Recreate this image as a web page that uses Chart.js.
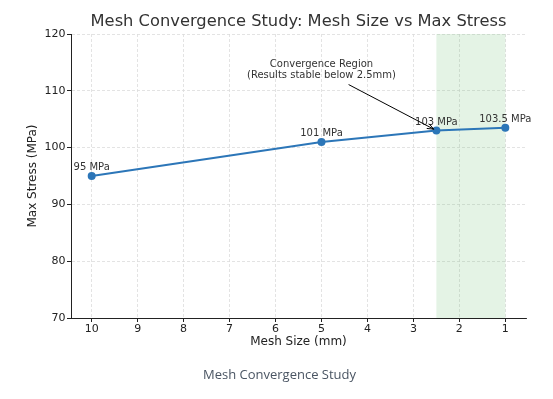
<!DOCTYPE html>
<html>
<head>
<meta charset="utf-8">
<script src="https://cdn.jsdelivr.net/npm/chart.js@4.4.0/dist/chart.umd.min.js"></script>
<style>
  html, body { margin: 0; padding: 0; background: #fff; }
  canvas { display: block; }
</style>
</head>
<body>
<canvas id="graficaMalla" width="553" height="399"></canvas>
<script>
// Datos
const tamanosMalla = [10, 5, 2.5, 1];
const esfuerzoMax = [95, 101, 103, 103.5];
const etiquetasPuntos = ["95 MPa", "101 MPa", "103 MPa", "103.5 MPa"];
const ticksX = [10, 9, 8, 7, 6, 5, 4, 3, 2, 1];
const ticksY = [70, 80, 90, 100, 110, 120];
const regionConvergencia = [2.5, 1];
const textoAnotacion = ["Convergence Region", "(Results stable below 2.5mm)"];
const centroAnotacion = [5, 113.7];
const inicioFlecha = [4.41, 111.1];
const destinoFlecha = [2.5, 103];
const leyendaFigura = "Mesh Convergence Study";

const FUENTE = "'DejaVu Sans', sans-serif";

// Zona verde de convergencia
const pluginRegion = {
  id: "regionConvergencia",
  beforeDatasetsDraw(chart) {
    const { ctx, chartArea, scales } = chart;
    const xa = scales.x.getPixelForValue(regionConvergencia[0]);
    const xb = scales.x.getPixelForValue(regionConvergencia[1]);
    ctx.save();
    ctx.fillStyle = "rgba(76,175,80,0.15)";
    ctx.fillRect(Math.min(xa, xb), chartArea.top, Math.abs(xb - xa), chartArea.bottom - chartArea.top);
    ctx.restore();
  }
};

// Etiquetas sobre los puntos y anotacion con flecha
const pluginEtiquetas = {
  id: "etiquetasPuntos",
  afterDatasetsDraw(chart) {
    const { ctx, scales } = chart;
    const meta = chart.getDatasetMeta(0);
    ctx.save();
    ctx.font = "10px " + FUENTE;
    ctx.fillStyle = "#333";
    ctx.textAlign = "center";
    ctx.textBaseline = "middle";
    meta.data.forEach((pt, i) => {
      ctx.fillText(etiquetasPuntos[i], pt.x, pt.y - 8.6);
    });

    // texto de la anotacion
    const cx = scales.x.getPixelForValue(centroAnotacion[0]);
    const cy = scales.y.getPixelForValue(centroAnotacion[1]);
    ctx.fillText(textoAnotacion[0], cx, cy - 5.7);
    ctx.fillText(textoAnotacion[1], cx, cy + 5.7);

    // flecha
    const x1 = scales.x.getPixelForValue(inicioFlecha[0]);
    const y1 = scales.y.getPixelForValue(inicioFlecha[1]);
    let x2 = scales.x.getPixelForValue(destinoFlecha[0]);
    let y2 = scales.y.getPixelForValue(destinoFlecha[1]);
    const ang = Math.atan2(y2 - y1, x2 - x1);
    x2 -= Math.cos(ang) * 3;
    y2 -= Math.sin(ang) * 3;
    ctx.strokeStyle = "#000";
    ctx.lineWidth = 1;
    ctx.beginPath();
    ctx.moveTo(x1, y1);
    ctx.lineTo(x2, y2);
    const largo = 7, abre = 0.38;
    ctx.moveTo(x2 - largo * Math.cos(ang - abre), y2 - largo * Math.sin(ang - abre));
    ctx.lineTo(x2, y2);
    ctx.lineTo(x2 - largo * Math.cos(ang + abre), y2 - largo * Math.sin(ang + abre));
    ctx.stroke();
    ctx.restore();
  }
};

// Pie de figura debajo del grafico
const pluginPie = {
  id: "pieFigura",
  afterDraw(chart) {
    const ctx = chart.ctx;
    ctx.save();
    ctx.font = "13px 'Open Sans', sans-serif";
    ctx.fillStyle = "#4a5563";
    ctx.textAlign = "center";
    ctx.textBaseline = "middle";
    ctx.fillText(leyendaFigura, chart.width / 2 + 3, chart.height - 24);
    ctx.restore();
  }
};

const ejeComun = {
  grid: {
    color: "#dcdcdc",
    lineWidth: 0.8,
    drawTicks: true,
    tickLength: 4,
    tickColor: "#222",
    tickWidth: 1,
    tickBorderDash: []
  },
  border: { display: true, color: "#222", width: 1, dash: [3, 2] }
};

new Chart(document.getElementById("graficaMalla"), {
  type: "line",
  data: {
    datasets: [{
      label: "Max Stress",
      data: tamanosMalla.map((x, i) => ({ x: x, y: esfuerzoMax[i] })),
      borderColor: "#2c76b8",
      backgroundColor: "#2c76b8",
      pointBackgroundColor: "#2c76b8",
      pointBorderColor: "#2c76b8",
      pointRadius: 3,
      pointHoverRadius: 3,
      borderWidth: 2,
      tension: 0,
      fill: false
    }]
  },
  options: {
    responsive: false,
    animation: false,
    devicePixelRatio: 1,
    layout: { padding: { left: 0, right: 27, top: 0, bottom: 0 } },
    scales: {
      x: {
        ...ejeComun,
        type: "linear",
        reverse: true,
        min: 0.55,
        max: 10.45,
        afterBuildTicks: scale => { scale.ticks = ticksX.map(v => ({ value: v })); },
        afterFit: scale => { scale.height = 81; },
        ticks: {
          font: { family: FUENTE, size: 11 },
          color: "#222",
          padding: 1,
          maxRotation: 0,
          autoSkip: false
        },
        title: {
          display: true,
          text: "Mesh Size (mm)",
          font: { family: FUENTE, size: 12 },
          color: "#222",
          padding: { top: 0, bottom: 49.8 }
        }
      },
      y: {
        ...ejeComun,
        type: "linear",
        min: 70,
        max: 120,
        afterBuildTicks: scale => { scale.ticks = ticksY.map(v => ({ value: v })); },
        afterFit: scale => { scale.width = 71; },
        ticks: {
          font: { family: FUENTE, size: 11 },
          color: "#222",
          padding: 1.5
        },
        title: {
          display: true,
          text: "Max Stress (MPa)",
          font: { family: FUENTE, size: 12 },
          color: "#222",
          padding: { top: 25.3, bottom: 0 }
        }
      }
    },
    plugins: {
      legend: { display: false },
      tooltip: { enabled: false },
      title: {
        display: true,
        fullSize: false,
        text: "Mesh Convergence Study: Mesh Size vs Max Stress",
        font: { family: FUENTE, size: 16.3, weight: "normal", lineHeight: 1.2 },
        color: "#333",
        padding: { top: 12.2, bottom: 2.24 }
      }
    }
  },
  plugins: [pluginRegion, pluginEtiquetas, pluginPie]
});
</script>
</body>
</html>
